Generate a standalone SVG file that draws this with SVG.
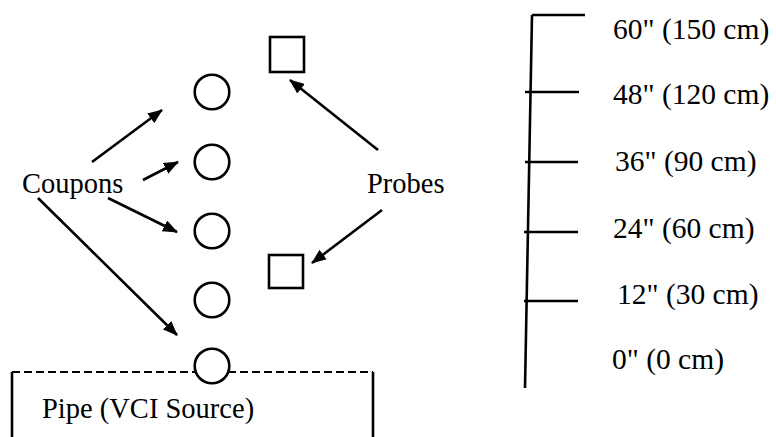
<svg xmlns="http://www.w3.org/2000/svg" width="776" height="437" viewBox="0 0 776 437">
<style>
text{font-family:"Liberation Serif","Times New Roman",serif;fill:#000}
.lbl{font-size:28.5px}
.rl{font-size:29.5px}
.c{fill:#fff;stroke:#000;stroke-width:2.6}
.sq{fill:none;stroke:#000;stroke-width:2.6}
.ln{stroke:#000;stroke-width:2.6;fill:none}
.ar{stroke:#000;stroke-width:2.6;fill:none;marker-end:url(#ah)}
.dash{stroke:#000;stroke-width:2.2;stroke-dasharray:8 4;fill:none}
</style>
<defs>
<marker id="ah" markerUnits="userSpaceOnUse" markerWidth="15" markerHeight="12" refX="14" refY="6" orient="auto">
<path d="M0,0 L15,6 L0,12 Z" fill="#000"/>
</marker>
</defs>
<rect width="776" height="437" fill="#fff"/>
<g id="pipe">
<line class="dash" x1="12" y1="372" x2="373" y2="372"/>
<line class="ln" x1="12" y1="372" x2="12" y2="437"/>
<line class="ln" x1="373" y1="372" x2="373" y2="437"/>
<text class="lbl" x="42" y="418">Pipe (VCI Source)</text>
</g>
<g id="coupon1"><circle class="c" cx="212" cy="92" r="17.3"/></g>
<g id="coupon2"><circle class="c" cx="212" cy="162" r="17.3"/></g>
<g id="coupon3"><circle class="c" cx="212" cy="231" r="17.3"/></g>
<g id="coupon4"><circle class="c" cx="212" cy="300" r="17.3"/></g>
<g id="coupon5"><circle class="c" cx="212" cy="366" r="17.3"/></g>
<g id="probe1"><rect class="sq" x="270" y="37" width="34" height="35"/></g>
<g id="probe2"><rect class="sq" x="269" y="255" width="34" height="33"/></g>
<g id="coupons-label"><text class="lbl" x="22" y="193">Coupons</text></g>
<g id="probes-label"><text class="lbl" x="367" y="193">Probes</text></g>
<g id="connectors">
<line class="ar" x1="92" y1="162" x2="162" y2="110"/>
<line class="ar" x1="143" y1="180" x2="178" y2="162"/>
<line class="ar" x1="108" y1="198" x2="177" y2="232"/>
<line class="ar" x1="38" y1="198" x2="177" y2="335"/>
<line class="ar" x1="378" y1="150" x2="290" y2="80"/>
<line class="ar" x1="382" y1="210" x2="312" y2="263"/>
</g>
<g id="ruler">
<line class="ln" x1="532" y1="15" x2="525" y2="388"/>
<line class="ln" x1="532" y1="15" x2="585" y2="15"/>
<line class="ln" x1="525" y1="92" x2="579" y2="92"/>
<line class="ln" x1="525" y1="162" x2="578" y2="162"/>
<line class="ln" x1="524" y1="232" x2="578" y2="232"/>
<line class="ln" x1="524" y1="301" x2="578" y2="301"/>
<text class="rl" x="613" y="39">60" (150 cm)</text>
<text class="rl" x="613" y="104">48" (120 cm)</text>
<text class="rl" x="615" y="171">36" (90 cm)</text>
<text class="rl" x="613" y="238">24" (60 cm)</text>
<text class="rl" x="617" y="304">12" (30 cm)</text>
<text class="rl" x="612" y="369">0" (0 cm)</text>
</g>
</svg>
